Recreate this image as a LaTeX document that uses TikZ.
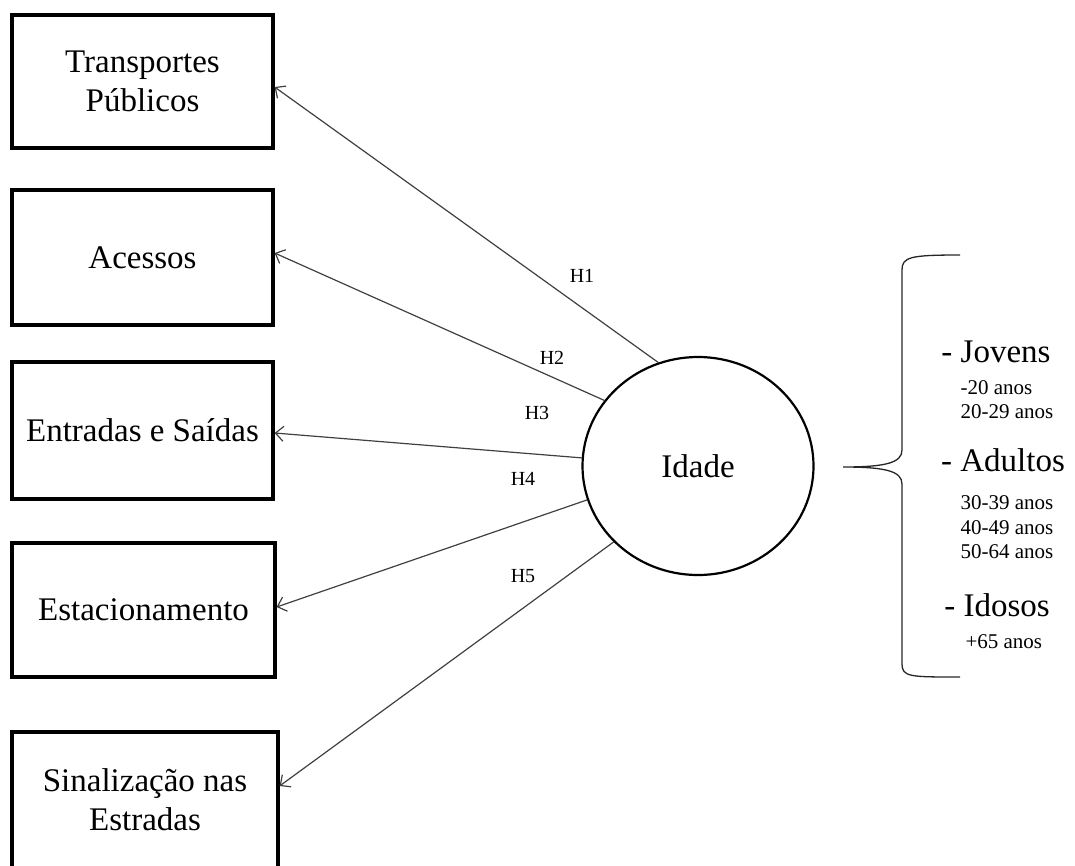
\documentclass[tikz,border=0pt]{standalone}
\usepackage{fontspec}
\setmainfont{Liberation Serif}
\usetikzlibrary{shapes.geometric,arrows.meta,positioning}

\begin{document}
\begin{tikzpicture}[
    x=1pt, y=-1pt,
    caixa/.style={draw, line width=3.2pt, minimum width=261pt, align=center,
        font=\fontsize{33}{39}\selectfont},
    seta/.style={draw=black!75, line width=1.2pt, -{Straight Barb[length=8pt,width=15pt]}},
    hip/.style={font=\fontsize{20}{24}\selectfont},
    grupo/.style={font=\fontsize{33}{38}\selectfont},
    faixa/.style={anchor=west, font=\fontsize{21}{25}\selectfont},
]
\useasboundingbox (0,0) rectangle (1075,865);

\node[caixa, minimum height=133pt] (transp) at (142.5,81.5) {Transportes\\Públicos};
\node[caixa, minimum height=135pt] (acess) at (142.5,257.5) {Acessos};
\node[caixa, minimum height=137pt] (entr) at (142.5,430.5) {Entradas e Saídas};
\node[caixa, minimum height=134pt, minimum width=263pt] (estac) at (143.5,610) {Estacionamento};
\node[caixa, minimum height=136pt, minimum width=266pt] (sinal) at (145,800) {Sinalização nas\\Estradas};

\node[draw, ellipse, line width=2.2pt, minimum width=231pt, minimum height=218pt,
    font=\fontsize{33}{39}\selectfont] (idade) at (698,466) {Idade};

\draw[seta] (idade.111) -- ([yshift=-5.5pt]transp.east);
\draw[seta] (idade.145) -- ([yshift=4.5pt]acess.east);
\draw[seta] (idade.176.5) -- ([yshift=-2.5pt]entr.east);
\draw[seta] (idade.197) -- ([yshift=3pt]estac.east);
\draw[seta] (idade.222) -- ([yshift=14pt]sinal.east);

\node[hip] (h1) at (582,276) {H1};
\node[hip] (h2) at (552,358) {H2};
\node[hip] (h3) at (537,413) {H3};
\node[hip] (h4) at (523,479) {H4};
\node[hip] (h5) at (523,576) {H5};

\draw[line width=1.3pt, black!85] (960,255) .. controls (910,255) and (902,257) .. (902,270)
    -- (902,450) .. controls (902,463) and (885,467) .. (843,467)
    .. controls (885,467) and (902,471) .. (902,484)
    -- (902,664) .. controls (902,677) and (910,677) .. (960,677);

\node[grupo] (jovens) at (996,352) {- Jovens};
\node[faixa] (j1) at (957,388) {-20 anos};
\node[faixa] (j2) at (957,412) {20-29 anos};
\node[grupo] (adultos) at (1003,460) {- Adultos};
\node[faixa] (a1) at (957,503) {30-39 anos};
\node[faixa] (a2) at (957,528) {40-49 anos};
\node[faixa] (a3) at (957,552) {50-64 anos};
\node[grupo] (idosos) at (997,605) {- Idosos};
\node[faixa] (i1) at (962,642) {+65 anos};
\end{tikzpicture}
\end{document}
